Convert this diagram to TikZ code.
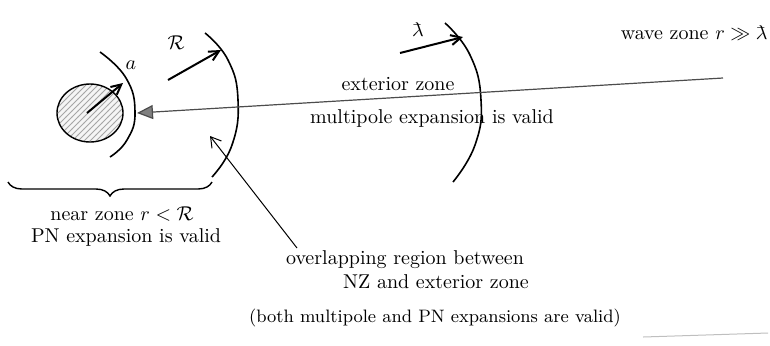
\documentclass[tikz,border=0pt]{standalone}
\usetikzlibrary{patterns,decorations.pathreplacing,arrows.meta,shapes.geometric}
\newcommand\lbarsym{{\mathchar'26\mkern-9mu\lambda}}
\begin{document}
\begin{tikzpicture}[x=0.5pt,y=-0.5pt,
  ink/.style={black,line width=0.7pt},
  arc/.style={black,line width=0.8pt},
  vec/.style={black,line width=1pt,-{Straight Barb[length=5pt,width=5pt]}},
  lab/.style={inner sep=0pt,font=\normalsize},
  txt/.style={inner sep=0pt,align=center,font=\normalsize}]
\useasboundingbox (0,0) rectangle (770,345);
% source blob
\node[ellipse,draw,line width=0.7pt,minimum width=66pt*0.5,minimum height=58pt*0.5,
  preaction={fill=gray!8},pattern=north east lines,pattern color=gray!70] (blob) at (90,113) {};
\coordinate (c) at (87,113);
\coordinate (aend) at (123,83);
\draw[vec] (c) -- (aend);
\node[lab] (a) at (131,65) {$a$};
% small arc around blob
\draw[arc] plot[smooth,tension=0.8] coordinates {(100,52) (126,78) (135,112) (127,140) (110,157)};
% R arrow and arc
\coordinate (rs) at (168,80);
\coordinate (re) at (221,50);
\draw[vec] (rs) -- (re);
\node[lab] (R) at (176,43) {$\mathcal{R}$};
\draw[arc] plot[smooth,tension=0.8] coordinates {(205,33) (228,60) (238,100) (232,145) (212,177)};
% lambda arrow and arc
\coordinate (ls) at (400,53);
\coordinate (le) at (463,37);
\draw[vec] (ls) -- (le);
\node[lab] (lam) at (418,30) {$\lbarsym$};
\draw[arc] plot[smooth,tension=0.8] coordinates {(445,23) (470,55) (481,100) (475,145) (453,182)};
% long arrow into the source
\coordinate (far) at (723,78);
\coordinate (tip) at (137,113);
\draw[gray!60!black,line width=0.6pt,-{Triangle[length=8pt,width=7pt,fill=gray]}] (far) -- (tip);
% texts on the right
\node[txt] (ext) at (398,84) {exterior zone};
\node[txt] (mult) at (432,118) {multipole expansion is valid};
\node[txt,anchor=east] (wave) at (768,33) {wave zone $r\gg\lbarsym$};
% brace for near zone
\coordinate (bl) at (8,182);
\coordinate (br) at (212,182);
\draw[ink,decorate,decoration={brace,mirror,amplitude=7pt}] (bl) -- (br);
\node[txt] (near) at (122,214) {near zone $r<\mathcal{R}$};
\node[txt] (pn) at (126,237) {PN expansion is valid};
% overlapping region pointer
\node[txt] (ov1) at (405,260) {overlapping region between};
\node[txt] (ov2) at (436,282) {NZ and exterior zone};
\node[txt,font=\small] (ov3) at (435,318) {(both multipole and PN expansions are valid)};
\coordinate (ovp) at (210,136);
\coordinate (ovs) at (297,248);
\draw[ink,line width=0.5pt,-{Straight Barb[length=5pt,width=6pt]}] (ovs) -- (ovp);
% faint scan line bottom right
\coordinate (f1) at (643,337);
\coordinate (f2) at (768,333);
\draw[gray!50,line width=0.5pt] (f1) -- (f2);
\end{tikzpicture}
\end{document}
